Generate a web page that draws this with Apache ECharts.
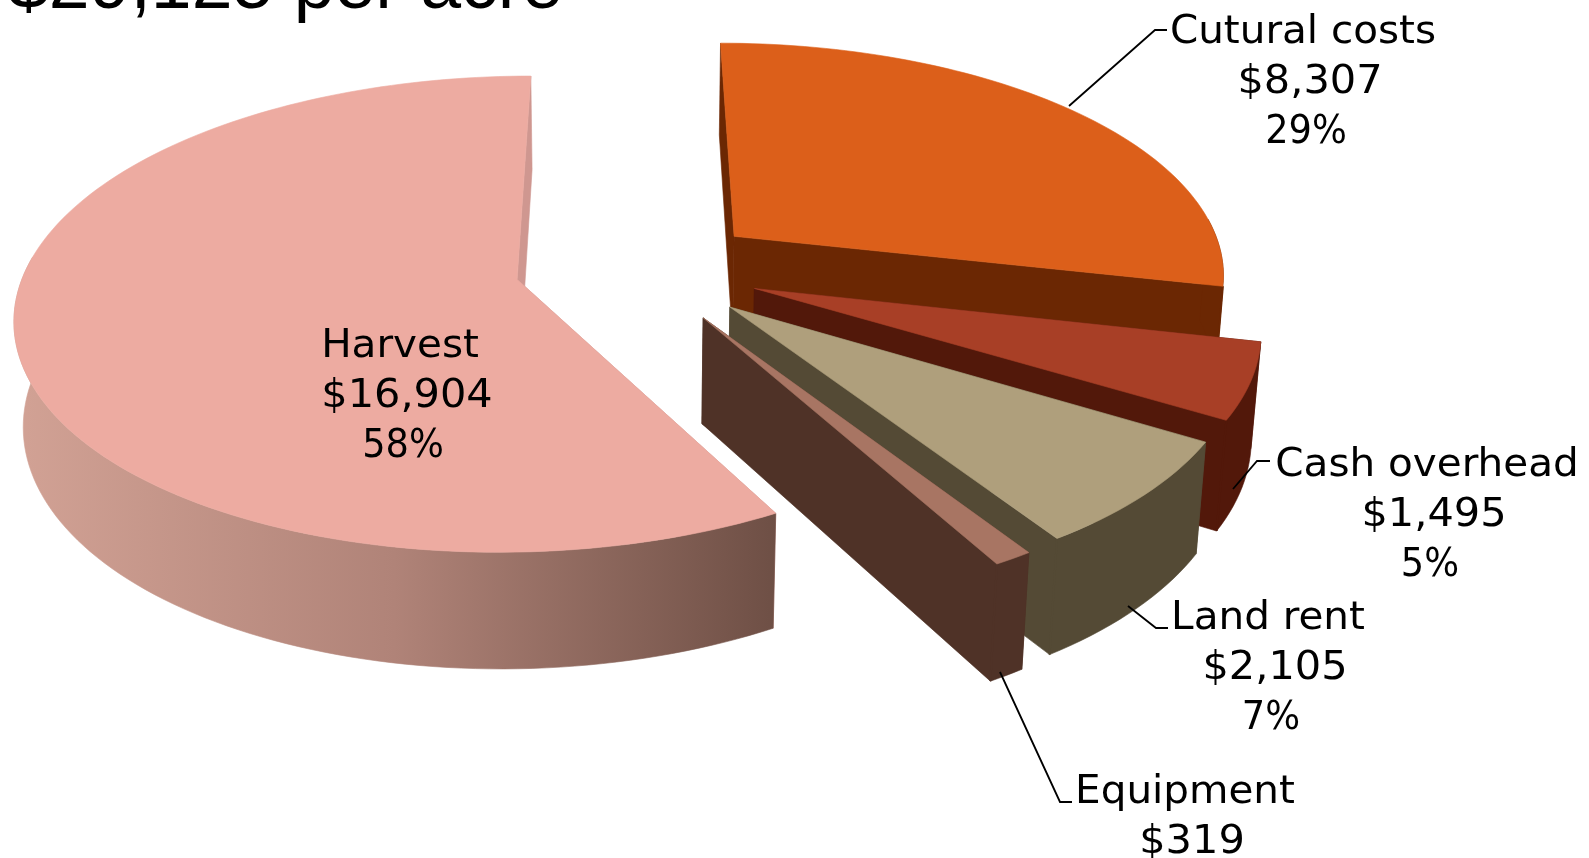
<!DOCTYPE html>
<html>
<head>
<meta charset="utf-8">
<style>
  html, body { margin: 0; padding: 0; background: #fff; }
  #chart { width: 1589px; height: 858px; }
</style>
<script src="https://cdn.jsdelivr.net/npm/echarts@6/dist/echarts.min.js"></script>
</head>
<body>
<div id="chart"></div>
<script>
const categories = ['Cutural costs', 'Cash overhead', 'Land rent', 'Equipment', 'Harvest']
const costs = [8307, 1495, 2105, 319, 16904]
const percents = [29, 5, 7, 1, 58]
const chartTitle = '$29,125 per acre'

const topColors = ['#DC5F1A', '#A83F26', '#AF9F7C', '#A87563', '#EDABA1']
const sideColors = ['#6B2703', '#52180A', '#544A35', '#4F3227', '#CF9790']
const explode = [0.29, 0.28, 0.29, 0.3, 0.225]

// fake perspective for the tilted disc
const cx = 625
const cy = 269
const rx = 492
const ry = 230
const persp = 0.145
const depth = 105
const converge = 0.015
const explodeTilt = 0.8

const labelBoxes = [
  { x: 1304, y: 33, line: [[1069, 106], [1155, 30], [1167, 30]] },
  { x: 1428, y: 466, line: [[1233, 489], [1257, 461], [1270, 461]] },
  { x: 1269, y: 619, line: [[1128, 606], [1156, 628], [1168, 628]] },
  { x: 1186, y: 793, line: [[1000, 672], [1060, 802], [1072, 802]] },
  { x: 401, y: 347, line: null }
]
// the reference font sets digits wider and % narrower than DejaVu
const lineFit = [
  { scale: 1.025, dx: -1 },
  { scale: 1.05, dx: 6 },
  { scale: 0.93, dx: 2 }
]

const total = costs.reduce((a, b) => a + b, 0)

function project (u, v, h) {
  const w = 1 + persp * v + converge * h
  return [cx + rx * u / w, cy + (-ry * v + depth * h) / w]
}

function money (v) {
  return '$' + v.toLocaleString('en-US')
}

function face (points, fill) {
  return { type: 'polygon', shape: { points: points }, style: { fill: fill, stroke: fill, lineWidth: 0.6 } }
}

function renderSlice (params, api) {
  const i = params.dataIndex
  const value = api.value(0)
  let before = 0
  for (let n = 0; n < i; n++) before += costs[n]
  const a0 = before / total * Math.PI * 2
  const a1 = (before + value) / total * Math.PI * 2
  const mid = (a0 + a1) / 2
  const ou = explode[i] * Math.sin(mid)
  const ov = explode[i] * Math.cos(mid) * explodeTilt

  const steps = Math.max(4, Math.round((a1 - a0) * 40))
  const arcTop = []
  const arcBottom = []
  const wallTop = []
  const wallBottom = []
  for (let s = 0; s <= steps; s++) {
    const a = a0 + (a1 - a0) * s / steps
    const t = project(ou + Math.sin(a), ov + Math.cos(a), 0)
    const b = project(ou + Math.sin(a), ov + Math.cos(a), 1)
    arcTop.push(t)
    arcBottom.push(b)
    // only the part of the rim that faces the viewer
    if (Math.cos(a) < 0.1) {
      wallTop.push(t)
      wallBottom.push(b)
    }
  }
  const apexTop = project(ou, ov, 0)
  const apexBottom = project(ou, ov, 1)

  let wallFill = sideColors[i]
  if (categories[i] === 'Harvest') {
    wallFill = new echarts.graphic.LinearGradient(0, 0, 1, 0, [
      { offset: 0, color: '#D2A295' },
      { offset: 0.5, color: '#B08378' },
      { offset: 1, color: '#6E4F45' }
    ])
  }

  const children = [
    face([apexTop, arcTop[0], arcBottom[0], apexBottom], sideColors[i]),
    face([apexTop, arcTop[steps], arcBottom[steps], apexBottom], sideColors[i]),
    face(wallTop.concat(wallBottom.slice().reverse()), wallFill)
  ]
  if (categories[i] !== 'Harvest') {
    // hide the seam between rim and cut face
    children.push({
      type: 'line',
      shape: { x1: arcTop[steps][0], y1: arcTop[steps][1], x2: arcBottom[steps][0], y2: arcBottom[steps][1] },
      style: { stroke: sideColors[i], lineWidth: 2 }
    })
  }
  children.push(face([apexTop].concat(arcTop), topColors[i]))
  return { type: 'group', children: children }
}

function renderLabel (params, api) {
  const i = params.dataIndex
  const box = labelBoxes[i]
  const lines = [categories[i], money(api.value(0)), percents[i] + '%']
  const children = lines.map((t, n) => ({
    type: 'text',
    x: box.x + lineFit[n].dx,
    y: box.y + n * 50,
    scaleX: lineFit[n].scale,
    style: {
      text: t,
      fill: '#000',
      font: '39.5px "DejaVu Sans"',
      textAlign: 'center',
      textVerticalAlign: 'middle'
    }
  }))
  if (box.line) {
    children.push({
      type: 'polyline',
      shape: { points: box.line },
      style: { stroke: '#000', lineWidth: 1.8, fill: null }
    })
  }
  return { type: 'group', children: children }
}

const chart = echarts.init(document.getElementById('chart'))
chart.setOption({
  backgroundColor: '#fff',
  animation: false,
  graphic: [{
    type: 'text',
    x: 8,
    y: -49,
    style: { text: chartTitle, fill: '#000', font: '73.4px "Liberation Sans"' }
  }],
  series: [
    {
      type: 'custom',
      coordinateSystem: 'none',
      renderItem: renderSlice,
      data: costs.map(v => [v]),
      silent: true
    },
    {
      type: 'custom',
      coordinateSystem: 'none',
      renderItem: renderLabel,
      data: costs.map(v => [v]),
      silent: true,
      z: 5
    }
  ]
})
</script>
</body>
</html>
